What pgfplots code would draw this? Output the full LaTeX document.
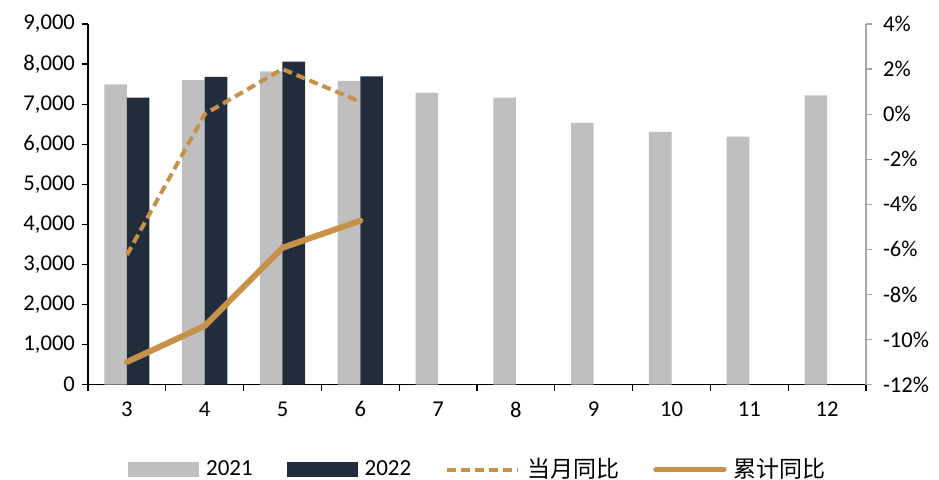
\documentclass[border=0pt]{standalone}
\usepackage{pgfplots}
\pgfplotsset{compat=1.18}
\usepackage{fontspec}
\setmainfont{Carlito}
\newfontfamily\cjk{Noto Sans CJK SC}
\definecolor{g21}{HTML}{BFBFBF}
\definecolor{d22}{HTML}{222D3C}
\definecolor{ln}{HTML}{C8914A}
\definecolor{rax}{HTML}{A6A6A6}
\begin{document}
\begin{tikzpicture}[font=\fontsize{11.3}{13}\selectfont]
\useasboundingbox (-44pt,-47.25pt) rectangle (425.5pt,192.25pt);
\begin{axis}[
  at={(0,0)}, anchor=south west,
  scale only axis, width=389pt, height=180.25pt,
  xmin=2.5, xmax=12.5, ymin=0, ymax=9000,
  axis x line*=bottom, axis y line*=left,
  axis line style={black, line width=0.6pt},
  xtick={3,...,12},
  major x tick style={draw=none},
  minor xtick={2.5,3.5,...,12.5},
  minor x tick style={black, line width=0.6pt},
  minor tick length=3pt,
  ytick={0,1000,...,9000},
  y tick style={black, line width=0.6pt},
  major tick length=3pt,
  tick align=outside,
  xticklabel style={yshift=-2pt},
  /pgf/number format/.cd, 1000 sep={,}, assume math mode=true,
]
\addplot[ybar, bar width=0.29, bar shift=-0.145, fill=g21, draw=none] coordinates {
(3,7490) (4,7600) (5,7820) (6,7580) (7,7290) (8,7160) (9,6530) (10,6310) (11,6190) (12,7220)};
\addplot[ybar, bar width=0.29, bar shift=0.145, fill=d22, draw=none] coordinates {
(3,7160) (4,7680) (5,8060) (6,7690)};
\end{axis}
\begin{axis}[
  at={(0,0)}, anchor=south west,
  scale only axis, width=389pt, height=180.25pt,
  xmin=2.5, xmax=12.5, ymin=-12, ymax=4,
  axis x line=none, axis y line*=right,
  y axis line style={rax, line width=0.6pt},
  y tick style={rax, line width=0.6pt},
  major tick length=3pt,
  tick align=outside,
  ytick={-12,-10,...,4},
  yticklabel={\pgfmathprintnumber{\tick}\%},
  yticklabel style={xshift=2pt},
  /pgf/number format/assume math mode=true,
  legend columns=4,
  legend style={at={(0.5,-0.236)}, anchor=center, draw=none, fill=none,
    font=\fontsize{11.5}{13}\selectfont,
    nodes={inner sep=0pt},
    /tikz/every odd column/.append style={column sep=3.5pt},
    /tikz/every even column/.append style={column sep=17pt}},
]
\addlegendimage{legend image code/.code={\fill[g21] (0pt,-3.5pt) rectangle (35pt,3.5pt);}}
\addlegendentry{2021}
\addlegendimage{legend image code/.code={\fill[d22] (0pt,-3.5pt) rectangle (35pt,3.5pt);}}
\addlegendentry{2022}
\addlegendimage{legend image code/.code={\draw[ln, line width=2pt, dash pattern=on 4.5pt off 2.5pt] (0pt,0pt) -- (35.5pt,0pt);}}
\addlegendentry{\cjk 当月同比}
\addlegendimage{legend image code/.code={\draw[ln, line width=2.7pt, line cap=round] (1pt,0pt) -- (35pt,0pt);}}
\addlegendentry{\cjk 累计同比}
\addplot[ln, line width=2pt, dash pattern=on 4.5pt off 2.5pt, mark=none] coordinates {
(3,-6.25) (4,0.0) (5,2.0) (6,0.55)};
\addplot[ln, line width=3pt, line join=round, line cap=round, mark=none] coordinates {
(3,-11.0) (4,-9.4) (5,-5.93) (6,-4.73)};
\end{axis}
\end{tikzpicture}
\end{document}
